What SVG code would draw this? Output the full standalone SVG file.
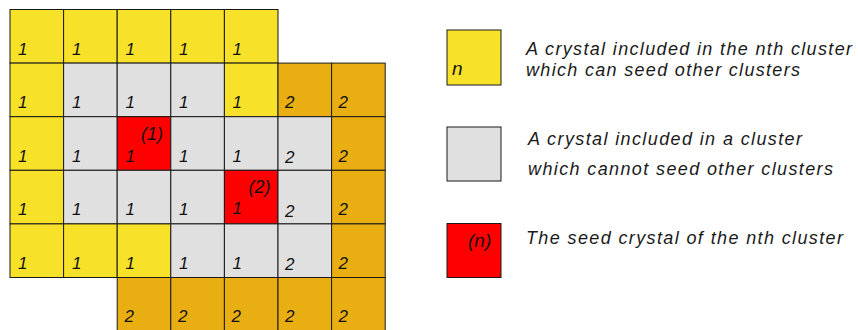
<svg xmlns="http://www.w3.org/2000/svg" width="858" height="330" viewBox="0 0 858 330">
<style>
.c{stroke:#1a1a1a;stroke-width:1}
.y{fill:#F8E229}
.o{fill:#E9AE12}
.g{fill:#E0E0E0}
.r{fill:#FF0000}
text{font-family:"Liberation Sans",Arial,sans-serif;font-style:italic;font-size:17px;fill:#111}
.s{font-size:18px}
.lg{font-size:18px;fill:#1a1a1a}
.n{font-size:19px}
</style>
<rect width="858" height="330" fill="#fff"/>
<g id="grid">
<g id="r0c0"><rect class="c y" x="10" y="9.5" width="53.6" height="53.6"/><text x="18" y="54.5">1</text></g>
<g id="r0c1"><rect class="c y" x="63.6" y="9.5" width="53.6" height="53.6"/><text x="72" y="54.5">1</text></g>
<g id="r0c2"><rect class="c y" x="117.2" y="9.5" width="53.6" height="53.6"/><text x="125.5" y="54.5">1</text></g>
<g id="r0c3"><rect class="c y" x="170.8" y="9.5" width="53.6" height="53.6"/><text x="179" y="54.5">1</text></g>
<g id="r0c4"><rect class="c y" x="224.4" y="9.5" width="53.6" height="53.6"/><text x="232.5" y="54.5">1</text></g>

<g id="r1c0"><rect class="c y" x="10" y="63.1" width="53.6" height="53.6"/><text x="18" y="108">1</text></g>
<g id="r1c1"><rect class="c g" x="63.6" y="63.1" width="53.6" height="53.6"/><text x="72" y="108">1</text></g>
<g id="r1c2"><rect class="c g" x="117.2" y="63.1" width="53.6" height="53.6"/><text x="125.5" y="108">1</text></g>
<g id="r1c3"><rect class="c g" x="170.8" y="63.1" width="53.6" height="53.6"/><text x="179" y="108">1</text></g>
<g id="r1c4"><rect class="c y" x="224.4" y="63.1" width="53.6" height="53.6"/><text x="232.5" y="108">1</text></g>
<g id="r1c5"><rect class="c o" x="278" y="63.1" width="53.6" height="53.6"/><text x="285" y="108">2</text></g>
<g id="r1c6"><rect class="c o" x="331.6" y="63.1" width="53.6" height="53.6"/><text x="338.5" y="108">2</text></g>

<g id="r2c0"><rect class="c y" x="10" y="116.7" width="53.6" height="53.6"/><text x="18" y="161.5">1</text></g>
<g id="r2c1"><rect class="c g" x="63.6" y="116.7" width="53.6" height="53.6"/><text x="72" y="161.5">1</text></g>
<g id="r2c2"><rect class="c r" x="117.2" y="116.7" width="53.6" height="53.6"/><text class="s" x="141" y="139.5">(1)</text><text x="125.5" y="161.5">1</text></g>
<g id="r2c3"><rect class="c g" x="170.8" y="116.7" width="53.6" height="53.6"/><text x="179" y="161.5">1</text></g>
<g id="r2c4"><rect class="c g" x="224.4" y="116.7" width="53.6" height="53.6"/><text x="232.5" y="161.5">1</text></g>
<g id="r2c5"><rect class="c g" x="278" y="116.7" width="53.6" height="53.6"/><text x="285" y="163">2</text></g>
<g id="r2c6"><rect class="c o" x="331.6" y="116.7" width="53.6" height="53.6"/><text x="338.5" y="161.5">2</text></g>

<g id="r3c0"><rect class="c y" x="10" y="170.3" width="53.6" height="53.6"/><text x="18" y="215">1</text></g>
<g id="r3c1"><rect class="c g" x="63.6" y="170.3" width="53.6" height="53.6"/><text x="72" y="215">1</text></g>
<g id="r3c2"><rect class="c g" x="117.2" y="170.3" width="53.6" height="53.6"/><text x="125.5" y="215">1</text></g>
<g id="r3c3"><rect class="c g" x="170.8" y="170.3" width="53.6" height="53.6"/><text x="179" y="215">1</text></g>
<g id="r3c4"><rect class="c r" x="224.4" y="170.3" width="53.6" height="53.6"/><text class="s" x="248.5" y="193">(2)</text><text x="232.5" y="213.5">1</text></g>
<g id="r3c5"><rect class="c g" x="278" y="170.3" width="53.6" height="53.6"/><text x="285" y="216.5">2</text></g>
<g id="r3c6"><rect class="c o" x="331.6" y="170.3" width="53.6" height="53.6"/><text x="338.5" y="215">2</text></g>

<g id="r4c0"><rect class="c y" x="10" y="223.9" width="53.6" height="53.6"/><text x="18" y="268.5">1</text></g>
<g id="r4c1"><rect class="c y" x="63.6" y="223.9" width="53.6" height="53.6"/><text x="72" y="268.5">1</text></g>
<g id="r4c2"><rect class="c y" x="117.2" y="223.9" width="53.6" height="53.6"/><text x="125.5" y="268.5">1</text></g>
<g id="r4c3"><rect class="c g" x="170.8" y="223.9" width="53.6" height="53.6"/><text x="179" y="268.5">1</text></g>
<g id="r4c4"><rect class="c g" x="224.4" y="223.9" width="53.6" height="53.6"/><text x="232.5" y="268.5">1</text></g>
<g id="r4c5"><rect class="c g" x="278" y="223.9" width="53.6" height="53.6"/><text x="285" y="270">2</text></g>
<g id="r4c6"><rect class="c o" x="331.6" y="223.9" width="53.6" height="53.6"/><text x="338.5" y="268.5">2</text></g>

<g id="r5c2"><rect class="c o" x="117.2" y="277.5" width="53.6" height="53.6"/><text x="124.5" y="322">2</text></g>
<g id="r5c3"><rect class="c o" x="170.8" y="277.5" width="53.6" height="53.6"/><text x="178" y="322">2</text></g>
<g id="r5c4"><rect class="c o" x="224.4" y="277.5" width="53.6" height="53.6"/><text x="231.5" y="322">2</text></g>
<g id="r5c5"><rect class="c o" x="278" y="277.5" width="53.6" height="53.6"/><text x="285" y="322">2</text></g>
<g id="r5c6"><rect class="c o" x="331.6" y="277.5" width="53.6" height="53.6"/><text x="338.5" y="322">2</text></g>
</g>
<g id="legend-yellow">
<rect class="c y" x="447" y="30" width="54" height="55"/>
<text class="n" x="452" y="75">n</text>
<text class="lg" x="526" y="55" textLength="326" lengthAdjust="spacing">A crystal included in the nth cluster</text>
<text class="lg" x="526" y="76" textLength="274" lengthAdjust="spacing">which can seed other clusters</text>
</g>
<g id="legend-gray">
<rect class="c g" x="447" y="127" width="54" height="54"/>
<text class="lg" x="528" y="144.5" textLength="274" lengthAdjust="spacing">A crystal included in a cluster</text>
<text class="lg" x="528" y="175" textLength="305" lengthAdjust="spacing">which cannot seed other clusters</text>
</g>
<g id="legend-red">
<rect class="c r" x="447" y="223.5" width="54" height="54"/>
<text class="n" x="468" y="247">(n)</text>
<text class="lg" x="526" y="244" textLength="317" lengthAdjust="spacing">The seed crystal of the nth cluster</text>
</g>
</svg>
